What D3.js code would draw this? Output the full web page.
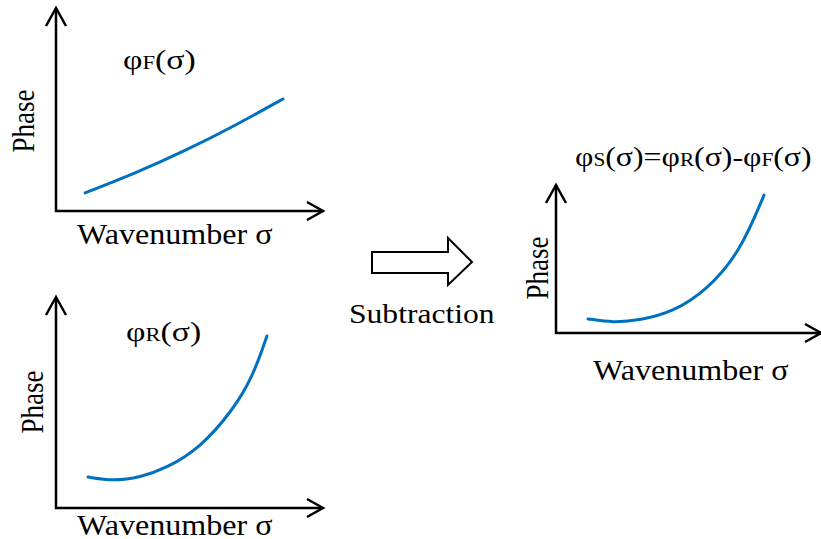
<!DOCTYPE html>
<html>
<head>
<meta charset="utf-8">
<script src="https://cdn.jsdelivr.net/npm/d3@7"></script>
<style>
  body { margin: 0; background: #fff; }
  text { font-family: "Liberation Serif", "Times New Roman", serif; fill: #000; }
</style>
</head>
<body>
<div id="chart"></div>
<script>
// curve samples (arbitrary units, axes 0..10)
var fWave  = [1.09, 2.96, 4.83, 6.70, 8.50];
var fPhase = [0.89, 1.85, 2.96, 4.20, 5.52];

var rWave  = [1.20, 2.13, 3.15, 4.16, 5.39, 6.63, 7.38, 7.90];
var rPhase = [1.47, 1.28, 1.45, 1.90, 2.84, 4.64, 6.25, 8.15];

var sWave  = [1.21, 2.15, 3.17, 4.42, 5.70, 6.94, 7.85];
var sPhase = [0.95, 0.70, 0.86, 1.42, 2.91, 5.45, 9.32];

var xLabel = "Wavenumber σ",
    yLabel = "Phase";

var width = 821, height = 539;
var blue = "#0070c0";

var svg = d3.select("#chart").append("svg")
    .attr("width", width)
    .attr("height", height);

// panels: origin and axis tips
var panels = [
  {x0: 56,  y0: 211, xTip: 323, yTip: 8,   wave: fWave, phase: fPhase,
   name: "F", label: [123, 69],
   ylab: [34, 121], xlab: [77, 244]},
  {x0: 56,  y0: 508, xTip: 323, yTip: 297, wave: rWave, phase: rPhase,
   name: "R", label: [126, 341],
   ylab: [43, 402], xlab: [77, 535]},
  {x0: 556, y0: 333, xTip: 821, yTip: 185, wave: sWave, phase: sPhase,
   name: "S", label: null,
   ylab: [548, 268], xlab: [593, 380]}
];

// the source text is drawn a little wider than tall
function stretchedText(x, y, sx, rot) {
  return svg.append("g")
      .attr("transform", "translate(" + x + "," + y + ") scale(" + sx + ",1)" + (rot ? " rotate(-90)" : ""))
    .append("text");
}

panels.forEach(function(p) {
  var x = d3.scaleLinear().domain([0, 10]).range([p.x0, p.xTip]);
  var y = d3.scaleLinear().domain([0, 10]).range([p.y0, p.yTip]);

  var g = svg.append("g");

  // axes with open arrow heads
  g.append("path")
      .attr("d", "M" + x(0) + "," + y(10) + "V" + y(0) + "H" + x(10))
      .attr("fill", "none")
      .attr("stroke", "#000")
      .attr("stroke-width", 2.5);
  g.append("path")
      .attr("d", "M" + (x(0) - 10) + "," + (y(10) + 18) + "L" + x(0) + "," + y(10) + "L" + (x(0) + 10) + "," + (y(10) + 18))
      .attr("fill", "none")
      .attr("stroke", "#000")
      .attr("stroke-width", 2.5);
  g.append("path")
      .attr("d", "M" + (x(10) - 16) + "," + (y(0) - 9) + "L" + x(10) + "," + y(0) + "L" + (x(10) - 16) + "," + (y(0) + 9))
      .attr("fill", "none")
      .attr("stroke", "#000")
      .attr("stroke-width", 2.5);

  var pts = p.wave.map(function(w, i) { return [w, p.phase[i]]; });
  var line = d3.line()
      .x(function(d) { return x(d[0]); })
      .y(function(d) { return y(d[1]); })
      .curve(d3.curveBasis);

  g.append("path")
      .datum(pts)
      .attr("d", line)
      .attr("fill", "none")
      .attr("stroke", blue)
      .attr("stroke-width", 3)
      .attr("stroke-linecap", "round");

  stretchedText(p.xlab[0], p.xlab[1], 1.07, false)
      .attr("font-size", 30)
      .text(xLabel);

  stretchedText(p.ylab[0], p.ylab[1], 1.17, true)
      .attr("font-size", 27)
      .attr("text-anchor", "middle")
      .text(yLabel);

  if (p.label) {
    var t = stretchedText(p.label[0], p.label[1], 1.25, false).attr("font-size", 27);
    t.append("tspan").text("φ");
    t.append("tspan").attr("font-size", 18).text(p.name);
    t.append("tspan").text("(σ)");
  }
});

// formula over the right panel
var f = stretchedText(575, 166, 1.18, false).attr("font-size", 27);
f.append("tspan").text("φ");
f.append("tspan").attr("font-size", 18).text("S");
f.append("tspan").text("(σ)=φ");
f.append("tspan").attr("font-size", 18).text("R");
f.append("tspan").text("(σ)-φ");
f.append("tspan").attr("font-size", 18).text("F");
f.append("tspan").text("(σ)");

// block arrow + caption
svg.append("path")
    .attr("d", "M372,252H448V238L472,262L448,285V273H372Z")
    .attr("fill", "#fff")
    .attr("stroke", "#000")
    .attr("stroke-width", 2);

stretchedText(349, 323, 1.17, false)
    .attr("font-size", 27)
    .text("Subtraction");
</script>
</body>
</html>
